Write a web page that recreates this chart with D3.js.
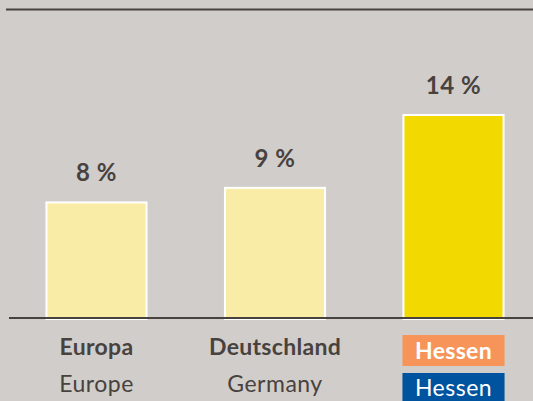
<!DOCTYPE html>
<html>
<head>
<meta charset="utf-8">
<script src="https://cdn.jsdelivr.net/npm/d3@7"></script>
<style>
  html, body { margin: 0; padding: 0; background: #d1cdca; }
  svg { display: block; font-family: Lato, 'Open Sans', sans-serif; }
</style>
</head>
<body>
<div id="chart"></div>
<script>
/* Data */
const categories = ['Europa', 'Deutschland', 'Hessen'];
const categoriesEn = ['Europe', 'Germany', 'Hessen'];
const values = [8, 9, 14];
const valueLabels = ['8 %', '9 %', '14 %'];
const highlighted = 'Hessen';

const COLORS = {
  bg: '#d1cdca',
  text: '#48423f',
  bar: '#f8eca7',
  barHi: '#f2d900',
  orange: '#f7945a',
  blue: '#00539e'
};

const width = 533;
const height = 401;
const baseY = 318;

const svg = d3.select('#chart')
  .append('svg')
  .attr('width', width)
  .attr('height', height);

svg.append('rect')
  .attr('width', width)
  .attr('height', height)
  .attr('fill', COLORS.bg);

// top rule
svg.append('line')
  .attr('x1', 6).attr('x2', width)
  .attr('y1', 9.5).attr('y2', 9.5)
  .attr('stroke', COLORS.text)
  .attr('stroke-width', 2);

const x = d3.scaleBand()
  .domain(categories)
  .range([7.25, 542.75])
  .paddingInner(0.428)
  .paddingOuter(0.214);

const y = d3.scaleLinear()
  .domain([0, 14])
  .range([baseY, 114]);

// bars
svg.selectAll('.bar')
  .data(categories)
  .enter()
  .append('rect')
  .attr('class', 'bar')
  .attr('x', d => x(d) + 1)
  .attr('width', x.bandwidth() - 2)
  .attr('y', (d, i) => y(values[i]) + 1)
  .attr('height', (d, i) => baseY - y(values[i]))
  .attr('fill', d => d === highlighted ? COLORS.barHi : COLORS.bar)
  .attr('stroke', '#ffffff')
  .attr('stroke-width', 2);

// value labels
svg.selectAll('.value')
  .data(categories)
  .enter()
  .append('text')
  .attr('class', 'value')
  .attr('x', d => x(d) + x.bandwidth() / 2)
  .attr('y', (d, i) => y(values[i]) - 20)
  .attr('text-anchor', 'middle')
  .attr('fill', COLORS.text)
  .style('font-size', '24px')
  .style('font-weight', 'bold')
  .style('letter-spacing', '0.5px')
  .text((d, i) => valueLabels[i]);

// baseline
svg.append('line')
  .attr('x1', 9).attr('x2', width)
  .attr('y1', baseY).attr('y2', baseY)
  .attr('stroke', COLORS.text)
  .attr('stroke-width', 2);

// category labels
categories.forEach((c, i) => {
  const cx = x(c) + x.bandwidth() / 2;
  if (c === highlighted) {
    svg.append('rect')
      .attr('x', x(c)).attr('width', x.bandwidth())
      .attr('y', 335).attr('height', 31)
      .attr('fill', COLORS.orange);
    svg.append('rect')
      .attr('x', x(c)).attr('width', x.bandwidth())
      .attr('y', 373).attr('height', 31)
      .attr('fill', COLORS.blue);
    svg.append('text')
      .attr('x', cx).attr('y', 359)
      .attr('text-anchor', 'middle')
      .attr('fill', '#ffffff')
      .style('font-size', '23px')
      .style('font-weight', 'bold')
      .style('letter-spacing', '0.3px')
      .text(c);
    svg.append('text')
      .attr('x', cx).attr('y', 396)
      .attr('text-anchor', 'middle')
      .attr('fill', '#ffffff')
      .style('font-size', '23px')
      .style('letter-spacing', '0.5px')
      .text(categoriesEn[i]);
  } else {
    svg.append('text')
      .attr('x', cx).attr('y', 355)
      .attr('text-anchor', 'middle')
      .attr('fill', COLORS.text)
      .style('font-size', '23px')
      .style('font-weight', 'bold')
      .style('letter-spacing', '0.3px')
      .text(c);
    svg.append('text')
      .attr('x', cx).attr('y', 392)
      .attr('text-anchor', 'middle')
      .attr('fill', COLORS.text)
      .style('font-size', '23px')
      .style('letter-spacing', '0.5px')
      .text(categoriesEn[i]);
  }
});
</script>
</body>
</html>
